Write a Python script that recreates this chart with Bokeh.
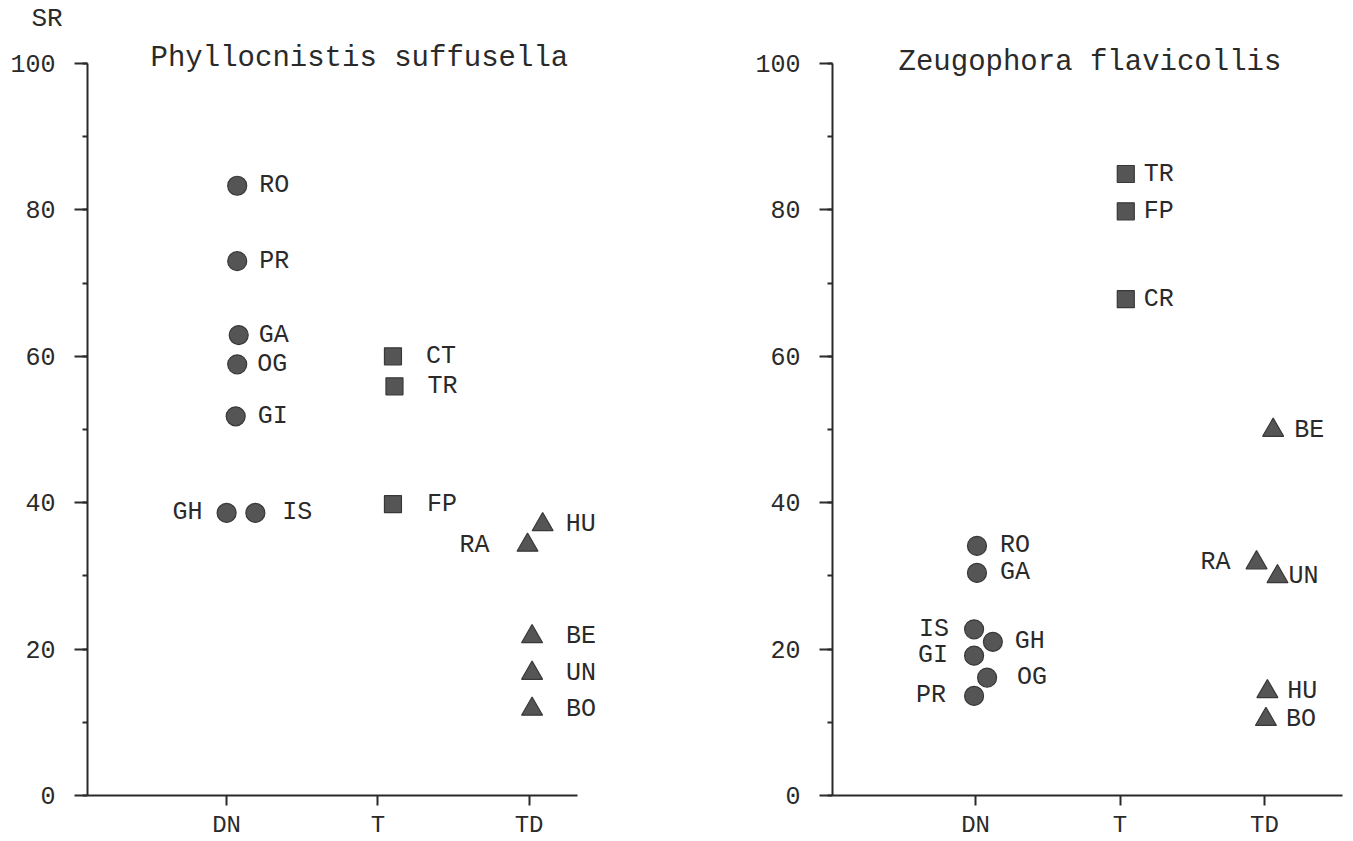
from bokeh.plotting import figure
from bokeh.layouts import row
from bokeh.models import ColumnDataSource, Range1d, FixedTicker, SingleIntervalTicker, Label, Title
from bokeh.embed import file_html
from bokeh.resources import INLINE
from bokeh.core.properties import value

# ---------------- data ----------------
categories = ["DN", "T", "TD"]
y_label = "SR"

ps_title = "Phyllocnistis suffusella"
ps_dn_sites = ["RO", "PR", "GA", "OG", "GI", "GH", "IS"]
ps_dn_sr = [83.3, 73.0, 62.9, 58.9, 51.8, 38.6, 38.6]
ps_t_sites = ["CT", "TR", "FP"]
ps_t_sr = [60.0, 55.9, 39.8]
ps_td_sites = ["HU", "RA", "BE", "UN", "BO"]
ps_td_sr = [37.0, 34.2, 21.7, 16.7, 11.8]

zf_title = "Zeugophora flavicollis"
zf_dn_sites = ["RO", "GA", "IS", "GH", "GI", "OG", "PR"]
zf_dn_sr = [34.1, 30.4, 22.7, 21.0, 19.1, 16.1, 13.6]
zf_t_sites = ["TR", "FP", "CR"]
zf_t_sr = [84.9, 79.8, 67.8]
zf_td_sites = ["BE", "RA", "UN", "HU", "BO"]
zf_td_sr = [49.9, 31.8, 29.9, 14.2, 10.4]

# ---------------- layout / style ----------------
FONT = "Liberation Mono"
INK = "#2a2a2a"
MARK_FILL = "#555555"
MARK_LINE = "#383838"

# horizontal jitter (category units) and label offsets (px) per point
ps_layout = {
    "DN": ([0.07, 0.07, 0.08, 0.07, 0.06, 0.0, 0.19], [22, 22, 20, 20, 22, -24, 27]),
    "T": ([0.10, 0.11, 0.10], [33, 33, 34]),
    "TD": ([0.09, -0.01, 0.02, 0.02, 0.02], [23, -38, 34, 34, 34]),
}
zf_layout = {
    "DN": ([0.01, 0.01, -0.01, 0.12, -0.01, 0.08, -0.01], [23, 23, -25, 22, -26, 30, -28]),
    "T": ([0.04, 0.04, 0.04], [18, 18, 18]),
    "TD": ([0.06, -0.055, 0.09, 0.02, 0.01], [21, -26, 11, 20, 20]),
}
MARKERS = {"DN": ("circle", 19), "T": ("square", 17), "TD": ("triangle", 21)}

Y_TOP = 103.96      # room above 100 for the panel title
FRAME_H = 761
BORDER_TOP = 34


def make_panel(title, groups, layout, x_start, x_end, axis_end, frame_width,
               border_left, border_right, title_x, title_y, with_sr):
    p = figure(frame_width=frame_width, frame_height=FRAME_H,
               x_range=Range1d(x_start, x_end), y_range=Range1d(0, Y_TOP),
               output_backend="svg", toolbar_location=None,
               min_border_left=border_left, min_border_right=border_right,
               min_border_top=BORDER_TOP, min_border_bottom=10,
               background_fill_color="white", border_fill_color="white")
    p.outline_line_color = None
    p.xgrid.visible = False
    p.ygrid.visible = False

    # y axis
    yax = p.yaxis[0]
    yax.bounds = (0, 100)
    yax.ticker = SingleIntervalTicker(interval=20, num_minor_ticks=2)
    yax.axis_line_color = INK
    yax.axis_line_width = 2
    yax.major_tick_line_color = INK
    yax.major_tick_line_width = 2
    yax.major_tick_out = 13
    yax.major_tick_in = 0
    yax.minor_tick_line_color = INK
    yax.minor_tick_line_width = 2
    yax.minor_tick_out = 5
    yax.minor_tick_in = 0
    yax.major_label_text_font = FONT
    yax.major_label_text_font_size = "25px"
    yax.major_label_text_color = INK
    yax.major_label_standoff = 19

    # x axis
    xax = p.xaxis[0]
    xax.bounds = (x_start, axis_end)
    xax.ticker = FixedTicker(ticks=[1, 2, 3])
    xax.major_label_overrides = {i + 1: c for i, c in enumerate(categories)}
    xax.axis_line_color = INK
    xax.axis_line_width = 2
    xax.major_tick_line_color = INK
    xax.major_tick_line_width = 2
    xax.major_tick_out = 10
    xax.major_tick_in = 0
    xax.minor_tick_line_color = None
    xax.major_label_text_font = FONT
    xax.major_label_text_font_size = "24px"
    xax.major_label_text_color = INK
    xax.major_label_standoff = 6

    for cat_i, cat in enumerate(categories):
        sites, vals = groups[cat]
        jit, dx = layout[cat]
        xs = [cat_i + 1 + j for j in jit]
        marker, size = MARKERS[cat]
        src = ColumnDataSource(dict(x=xs, y=vals, site=sites))
        p.scatter("x", "y", source=src, marker=marker, size=size,
                  fill_color=MARK_FILL, line_color=MARK_LINE, line_width=1.2)
        for side, align in (("r", "left"), ("l", "right")):
            idx = [k for k in range(len(sites)) if (dx[k] > 0) == (side == "r")]
            if not idx:
                continue
            lsrc = ColumnDataSource(dict(
                x=[xs[k] for k in idx], y=[vals[k] for k in idx],
                site=[sites[k] for k in idx], dx=[dx[k] for k in idx]))
            p.text("x", "y", text="site", source=lsrc, x_offset="dx",
                   text_align=align, text_baseline="middle",
                   text_font=value(FONT), text_font_size="25px", text_color=INK)

    p.add_layout(Label(x=title_x, y=title_y, text=title, text_font=FONT,
                       text_font_size="29px", text_color=INK,
                       text_align="left", text_baseline="alphabetic"))
    if with_sr:
        p.add_layout(Title(text=y_label, align="left", offset=-56, standoff=1,
                           text_font=FONT, text_font_size="26px",
                           text_font_style="normal", text_color=INK), "above")
    return p


ps_groups = {"DN": (ps_dn_sites, ps_dn_sr), "T": (ps_t_sites, ps_t_sr),
             "TD": (ps_td_sites, ps_td_sr)}
zf_groups = {"DN": (zf_dn_sites, zf_dn_sr), "T": (zf_t_sites, zf_t_sr),
             "TD": (zf_td_sites, zf_td_sr)}

p1 = make_panel(ps_title, ps_groups, ps_layout, 0.08, 3.737, 3.32, 553, 87, 68,
                0.497, 100.7, True)
p2 = make_panel(zf_title, zf_groups, zf_layout, 0.01, 3.54, 3.54, 510, 124, 8,
                0.467, 100.1, False)

layout = row(p1, p2)
open("out.html", "w").write(file_html(layout, INLINE))
